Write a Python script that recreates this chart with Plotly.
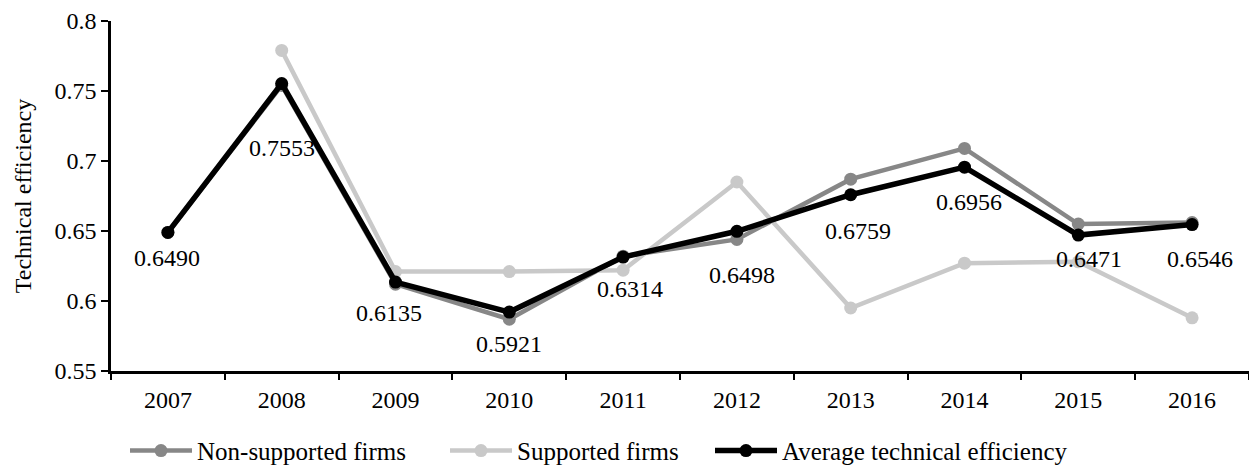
import plotly.graph_objects as go

# Survey years and technical-efficiency scores
years = ["2007", "2008", "2009", "2010", "2011", "2012", "2013", "2014", "2015", "2016"]
non_supported = [0.649, 0.754, 0.612, 0.587, 0.632, 0.644, 0.687, 0.709, 0.655, 0.656]
supported = [None, 0.779, 0.621, 0.621, 0.622, 0.685, 0.595, 0.627, 0.628, 0.588]
average = [0.6490, 0.7553, 0.6135, 0.5921, 0.6314, 0.6498, 0.6759, 0.6956, 0.6471, 0.6546]

y_ticks = [0.55, 0.6, 0.65, 0.7, 0.75, 0.8]
y_tick_text = ["0.55", "0.6", "0.65", "0.7", "0.75", "0.8"]

# pixel offsets of the value labels relative to each point (x, y)
label_shift = [(-1, -26), (0, -64), (-7, -31), (0, -32), (7, -32),
               (5, -44), (7, -36), (4, -35), (11, -24), (8, -34)]

FONT = "Liberation Serif, DejaVu Serif, serif"
FS = 24
PLOT_L, PLOT_W = 111, 1138

fig = go.Figure()

series = [
    ("Non-supported firms", non_supported, "#878787", 4.5, 13, "legend"),
    ("Supported firms", supported, "#c9c9c9", 4.5, 13, "legend2"),
    ("Average technical efficiency", average, "#000000", 5.5, 13, "legend3"),
]
for name, vals, color, lw, ms, leg in series:
    fig.add_trace(go.Scatter(
        x=years, y=vals, name=name, mode="lines+markers",
        line=dict(color=color, width=lw),
        marker=dict(color=color, size=ms),
        connectgaps=False, legend=leg,
    ))

annotations = [
    dict(x=i, y=v, xref="x", yref="y", text="{:.4f}".format(v),
         showarrow=False, xshift=dx, yshift=dy,
         xanchor="center", yanchor="middle",
         font=dict(family=FONT, size=FS, color="#000000"))
    for i, (v, (dx, dy)) in enumerate(zip(average, label_shift))
]


def legend_at(px):
    return dict(orientation="h", x=(px - PLOT_L) / PLOT_W, xanchor="left",
                y=-0.228, yanchor="middle", bgcolor="rgba(0,0,0,0)",
                itemwidth=62,
                font=dict(family=FONT, size=25, color="#000000"))


fig.update_layout(
    width=1249, height=466,
    margin=dict(l=PLOT_L, r=0, t=21, b=95, autoexpand=False),
    plot_bgcolor="white", paper_bgcolor="white",
    font=dict(family=FONT, size=FS, color="#000000"),
    annotations=annotations,
    showlegend=True,
    legend=legend_at(125),
    legend2=legend_at(445),
    legend3=legend_at(710),
    xaxis=dict(
        type="category", range=[-0.5, 9.5],
        showline=True, linecolor="#000000", linewidth=2.5,
        ticks="outside", tickson="boundaries", ticklen=6,
        tickwidth=2, tickcolor="#000000",
        showgrid=False, zeroline=False,
        ticklabelstandoff=5,
        tickfont=dict(family=FONT, size=FS, color="#000000"),
    ),
    yaxis=dict(
        range=[0.55, 0.8], tickvals=y_ticks, ticktext=y_tick_text,
        showline=True, linecolor="#000000", linewidth=2.5,
        ticks="outside", ticklen=7, tickwidth=2, tickcolor="#000000",
        showgrid=False, zeroline=False,
        tickfont=dict(family=FONT, size=FS, color="#000000"),
        title=dict(text="Technical efficiency", standoff=17,
                   font=dict(family=FONT, size=24, color="#000000")),
    ),
)

fig.write_html("out.html")
